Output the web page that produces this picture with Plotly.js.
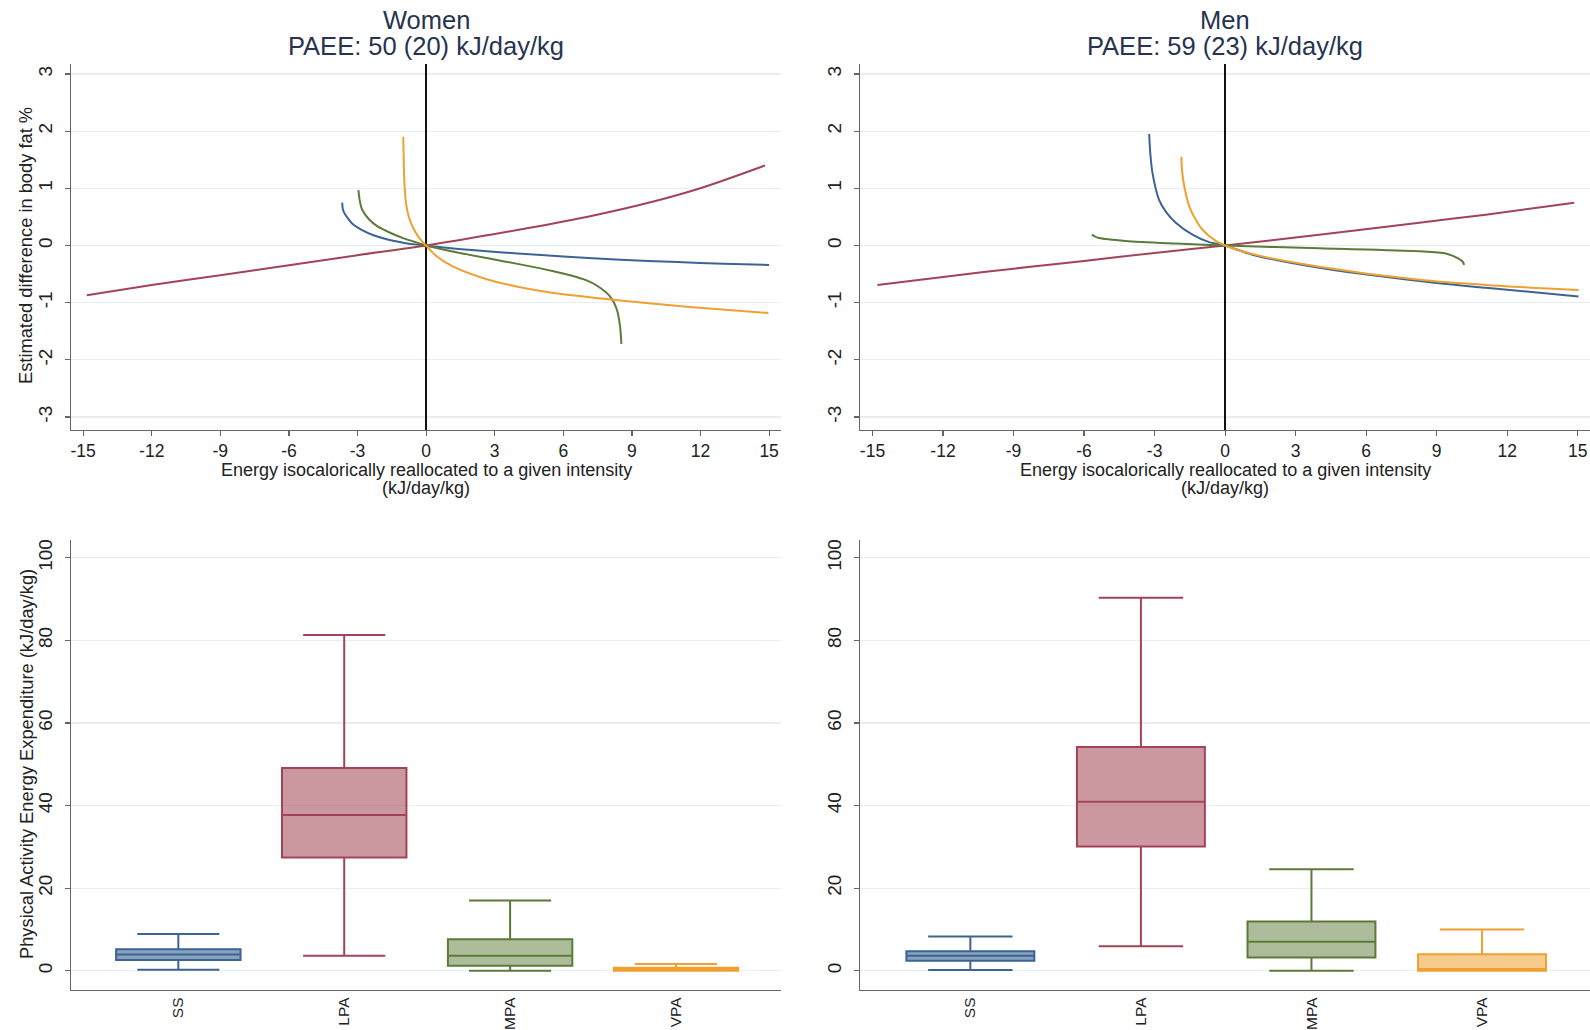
<!DOCTYPE html>
<html>
<head>
<meta charset="utf-8">
<script src="https://cdn.plot.ly/plotly-3.0.1.min.js"></script>
<style>html,body{margin:0;padding:0;background:#fff;}#chart{width:1590px;height:1030px;}</style>
</head>
<body>
<div id="chart"></div>
<script>
// ---------- Data ----------
const categories = ['SS', 'LPA', 'MPA', 'VPA'];
const xTicks = [-15, -12, -9, -6, -3, 0, 3, 6, 9, 12, 15];
const yTicksTop = [-3, -2, -1, 0, 1, 2, 3];
const yTicksBottom = [0, 20, 40, 60, 80, 100];

// Women curves (x: kJ/day/kg reallocated, y: estimated difference in body fat %)
const womenSS_x = [-3.67, -3.64, -3.55, -3.43, -3.2, -2.84, -2.3, -1.68, -1.0, -0.5, 0, 1, 2, 4, 6, 8.5, 11, 13, 15];
const womenSS_y = [0.75, 0.63, 0.55, 0.48, 0.37, 0.28, 0.18, 0.105, 0.05, 0.02, 0, -0.045, -0.08, -0.14, -0.19, -0.25, -0.29, -0.32, -0.34];
const womenLPA_x = [-14.84, -12, -9, -6, -3, 0, 3, 4.11, 7.02, 9.94, 12.13, 14.82];
const womenLPA_y = [-0.87, -0.69, -0.52, -0.345, -0.17, 0, 0.20, 0.28, 0.50, 0.77, 1.02, 1.40];
const womenMPA_x = [-2.96, -2.9, -2.8, -2.5, -2.14, -1.5, -0.95, -0.4, 0, 1, 2.65, 4.11, 5.57, 6.3, 7.02, 7.46, 8.04, 8.34, 8.48, 8.54];
const womenMPA_y = [0.97, 0.78, 0.63, 0.46, 0.34, 0.21, 0.12, 0.05, 0, -0.09, -0.22, -0.33, -0.45, -0.52, -0.61, -0.70, -0.89, -1.12, -1.41, -1.72];
const womenVPA_x = [-1.0, -0.98, -0.95, -0.88, -0.75, -0.58, -0.35, -0.15, 0, 0.2, 0.5, 1.19, 2.65, 4.0, 5.57, 8.48, 11.4, 14.97];
const womenVPA_y = [1.9, 1.5, 1.1, 0.74, 0.49, 0.32, 0.16, 0.06, 0, -0.09, -0.2, -0.37, -0.59, -0.72, -0.83, -0.96, -1.07, -1.18];

// Men curves
const menSS_x = [-3.23, -3.18, -3.09, -2.81, -2.5, -2.10, -1.39, -0.68, 0, 1.16, 4.0, 8.26, 11.09, 15.03];
const menSS_y = [1.95, 1.6, 1.27, 0.80, 0.58, 0.40, 0.19, 0.06, 0, -0.16, -0.39, -0.62, -0.74, -0.89];
const menLPA_x = [-14.79, -12, -8.48, -6, -3, 0, 4.0, 8.26, 11.09, 14.85];
const menLPA_y = [-0.69, -0.55, -0.38, -0.27, -0.13, 0, 0.19, 0.40, 0.54, 0.75];
const menMPA_x = [-5.67, -5.5, -5.36, -4.23, -2.10, 0, 4.0, 8.26, 9.39, 9.89, 10.1, 10.17];
const menMPA_y = [0.19, 0.15, 0.13, 0.08, 0.035, 0, -0.05, -0.10, -0.14, -0.22, -0.28, -0.34];
const menVPA_x = [-1.86, -1.83, -1.74, -1.53, -1.25, -0.97, -0.40, 0, 1.16, 4.0, 8.26, 11.09, 15.03];
const menVPA_y = [1.55, 1.3, 1.04, 0.69, 0.45, 0.28, 0.08, 0, -0.15, -0.37, -0.60, -0.69, -0.78];

// Box plot statistics (kJ/day/kg), order: SS, LPA, MPA, VPA
const womenLower  = [0.25, 3.6, 0.0, 0.0];
const womenQ1     = [2.6, 27.4, 1.2, 0.0];
const womenMedian = [3.9, 37.7, 3.6, 0.15];
const womenQ3     = [5.2, 49.1, 7.6, 0.7];
const womenUpper  = [8.9, 81.3, 17.0, 1.6];

const menLower  = [0.2, 5.9, 0.0, 0.0];
const menQ1     = [2.4, 30.1, 3.2, 0.0];
const menMedian = [3.6, 40.9, 7.0, 0.4];
const menQ3     = [4.7, 54.2, 11.9, 4.0];
const menUpper  = [8.3, 90.3, 24.6, 10.0];

// ---------- Styles ----------
const lineColors = ['#3b6494', '#a3435a', '#5b7b38', '#f0a030'];
const fillColors = ['rgba(59,100,148,0.6)', 'rgba(163,67,80,0.55)', 'rgba(91,123,56,0.5)', 'rgba(240,160,48,0.55)'];
const FONT = 'Liberation Sans, Arial, Helvetica, sans-serif';

const W = 1590, H = 1030;
const px = v => v / W;
const py = v => 1 - v / H;

const traces = [];
function curve(x, y, color, xa, ya) {
  traces.push({type: 'scatter', mode: 'lines', x: x, y: y, xaxis: xa, yaxis: ya,
    line: {color: color, width: 2, shape: 'spline', smoothing: 0.8}, hoverinfo: 'skip'});
}
curve(womenSS_x, womenSS_y, lineColors[0], 'x', 'y');
curve(womenLPA_x, womenLPA_y, lineColors[1], 'x', 'y');
curve(womenMPA_x, womenMPA_y, lineColors[2], 'x', 'y');
curve(womenVPA_x, womenVPA_y, lineColors[3], 'x', 'y');
curve(menSS_x, menSS_y, lineColors[0], 'x2', 'y2');
curve(menLPA_x, menLPA_y, lineColors[1], 'x2', 'y2');
curve(menMPA_x, menMPA_y, lineColors[2], 'x2', 'y2');
curve(menVPA_x, menVPA_y, lineColors[3], 'x2', 'y2');

function boxes(lo, q1, med, q3, hi, xa, ya) {
  categories.forEach((c, i) => {
    traces.push({type: 'box', x: [c], xaxis: xa, yaxis: ya,
      lowerfence: [lo[i]], q1: [q1[i]], median: [med[i]], q3: [q3[i]], upperfence: [hi[i]],
      boxpoints: false, width: 0.75, whiskerwidth: 0.66,
      line: {color: lineColors[i], width: 2}, fillcolor: fillColors[i], hoverinfo: 'skip'});
  });
}
boxes(womenLower, womenQ1, womenMedian, womenQ3, womenUpper, 'x3', 'y3');
boxes(menLower, menQ1, menMedian, menQ3, menUpper, 'x4', 'y4');

const axisCommon = {
  showline: true, linecolor: '#666', linewidth: 1.3,
  ticks: 'outside', ticklen: 5, tickcolor: '#666', tickwidth: 1.2,
  tickfont: {family: FONT, size: 17.5, color: '#222'},
  fixedrange: true
};
const topX = Object.assign({}, axisCommon, {
  range: [-15.53, 15.52], tickmode: 'array', tickvals: xTicks, ticktext: xTicks.map(String),
  showgrid: false, zeroline: true, zerolinecolor: '#111', zerolinewidth: 1.5
});
const topY = Object.assign({}, axisCommon, {
  range: [-3.227, 3.175], tickmode: 'array', tickvals: yTicksTop, ticktext: yTicksTop.map(String),
  tickangle: -90, showgrid: true, gridcolor: '#e8eef3', gridwidth: 1.2, zeroline: false,
  tickfont: {family: FONT, size: 19, color: '#222'}, ticklabelstandoff: 5
});
const botX = Object.assign({}, axisCommon, {
  type: 'category', categoryorder: 'array', categoryarray: categories,
  range: [-0.647, 3.633], tickangle: -90, showgrid: false, zeroline: false,
  ticks: '', tickfont: {family: FONT, size: 15.5, color: '#222'}
});
const botY = Object.assign({}, axisCommon, {
  range: [-4.67, 104.3], tickmode: 'array', tickvals: yTicksBottom, ticktext: yTicksBottom.map(String),
  tickangle: -90, showgrid: true, gridcolor: '#e8eef3', gridwidth: 1.2, zeroline: false,
  tickfont: {family: FONT, size: 19, color: '#222'}, ticklabelstandoff: 5
});

const topDom = [py(430), py(64)];
const botDom = [py(990), py(540)];
const leftDom = [px(71), px(781)];
const rightDom = [px(860), 1];

const titleColor = '#27334f';
const ann = (text, x, y, size, color, angle) => ({
  text: text, xref: 'paper', yref: 'paper', x: px(x), y: py(y), xanchor: 'center', yanchor: 'middle',
  showarrow: false, textangle: angle || 0, font: {family: FONT, size: size, color: color}
});

const layout = {
  width: W, height: H, margin: {l: 0, r: 0, t: 0, b: 0},
  paper_bgcolor: '#fff', plot_bgcolor: '#fff', showlegend: false, hovermode: false,
  boxmode: 'overlay',
  font: {family: FONT},
  xaxis: Object.assign({}, topX, {domain: leftDom, anchor: 'y'}),
  yaxis: Object.assign({}, topY, {domain: topDom, anchor: 'x'}),
  xaxis2: Object.assign({}, topX, {domain: rightDom, anchor: 'y2'}),
  yaxis2: Object.assign({}, topY, {domain: topDom, anchor: 'x2'}),
  xaxis3: Object.assign({}, botX, {domain: leftDom, anchor: 'y3'}),
  yaxis3: Object.assign({}, botY, {domain: botDom, anchor: 'x3'}),
  xaxis4: Object.assign({}, botX, {domain: rightDom, anchor: 'y4'}),
  yaxis4: Object.assign({}, botY, {domain: botDom, anchor: 'x4'}),
  annotations: [
    ann('Women', 426, 20, 25.5, titleColor),
    ann('PAEE: 50 (20) kJ/day/kg', 426, 46, 25.5, titleColor),
    ann('Men', 1225, 20, 25.5, titleColor),
    ann('PAEE: 59 (23) kJ/day/kg', 1225, 46, 25.5, titleColor),
    ann('Energy isocalorically reallocated to a given intensity', 426, 470, 18, '#222'),
    ann('(kJ/day/kg)', 426, 488, 18, '#222'),
    ann('Energy isocalorically reallocated to a given intensity', 1225, 470, 18, '#222'),
    ann('(kJ/day/kg)', 1225, 488, 18, '#222'),
    ann('Estimated difference in body fat %', 26, 246, 18.3, '#222', -90),
    ann('Physical Activity Energy Expenditure (kJ/day/kg)', 26, 764, 18.3, '#222', -90)
  ]
};

Plotly.newPlot('chart', traces, layout, {staticPlot: true, displayModeBar: false});
</script>
</body>
</html>
